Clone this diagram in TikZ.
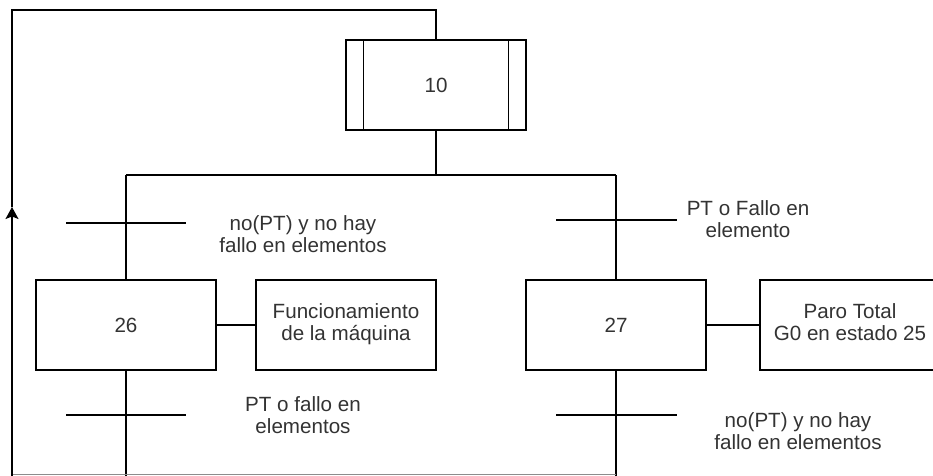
\documentclass[tikz,border=0pt]{standalone}
\usepackage{fontspec}
\setmainfont{Liberation Sans}
\usepackage{graphicx}
\usetikzlibrary{arrows.meta}
\newcommand\tx[1]{\begin{tabular}{@{}c@{}}#1\end{tabular}}
\newcommand\btx[1]{\raisebox{-4pt}{\tx{#1}}}
\begin{document}
\begin{tikzpicture}[x=1pt,y=-1pt,
  every node/.style={font=\fontsize{20.6}{22.5}\selectfont, text=black!80},
  stepbox/.style={draw, line width=1.3pt, minimum width=180pt, minimum height=90pt, inner sep=0pt},
  wire/.style={line width=1.3pt},
  edgewire/.style={line width=1pt, draw=black!45},
  bar/.style={line width=1.3pt},
  lbl/.style={inner sep=0pt, align=center}]
\useasboundingbox (0,0) rectangle (933,475);
% steps
\node[stepbox] (b10) at (436,85) {10};
\draw[wire] ([xshift=18pt]b10.north west) -- ([xshift=18pt]b10.south west);
\draw[wire] ([xshift=-18pt]b10.north east) -- ([xshift=-18pt]b10.south east);
\node[stepbox] (b26) at (126,325) {26};
\node[stepbox] (f26) at (346,325) {\btx{Funcionamiento\\de la máquina}};
\node[stepbox] (b27) at (616,325) {27};
\node[stepbox] (p27) at (850,325) {\btx{Paro Total\\G0 en estado 25}};
% coordinates
\coordinate (jm) at (436,175);
\coordinate (jl) at (126,175);
\coordinate (jr) at (616,175);
\coordinate (bl) at (126,476);
\coordinate (br) at (616,476);
\coordinate (lc) at (12,476);
\coordinate (arr) at (12,207);
\coordinate (tc) at (12,10);
\coordinate (tm) at (436,10);
% connectors
\draw[wire] (b10.south) -- (jm);
\draw[wire] (jl) -- (jr);
\draw[wire] (jl) -- (b26.north);
\draw[wire] (jr) -- (b27.north);
\draw[wire] (b26.east) -- (f26.west);
\draw[wire] (b27.east) -- (p27.west);
\draw[wire] (b26.south) -- (bl);
\draw[wire] (b27.south) -- (br);
\draw[edgewire] (616,474.9) -- (12,474.9);
\draw[wire, -{Stealth[length=12pt,width=13pt,inset=2.5pt]}] (lc) -- (arr);
\draw[wire] (arr) -- (tc) -- (tm) -- (b10.north);
% transition bars
\draw[bar] (66,223) -- (186,223);
\draw[bar] (556,220) -- (677,220);
\draw[bar] (66,415) -- (186,415);
\draw[bar] (556,415) -- (677,415);
% transition labels
\node[lbl] (l1) at (303,237) {\tx{no(PT) y no hay\\fallo en elementos}};
\node[lbl] (l2) at (748,222) {\tx{PT o Fallo en\\elemento}};
\node[lbl] (l3) at (303,418) {\tx{PT o fallo en\\elementos}};
\node[lbl] (l4) at (798,434) {\tx{no(PT) y no hay\\fallo en elementos}};
\end{tikzpicture}
\end{document}
